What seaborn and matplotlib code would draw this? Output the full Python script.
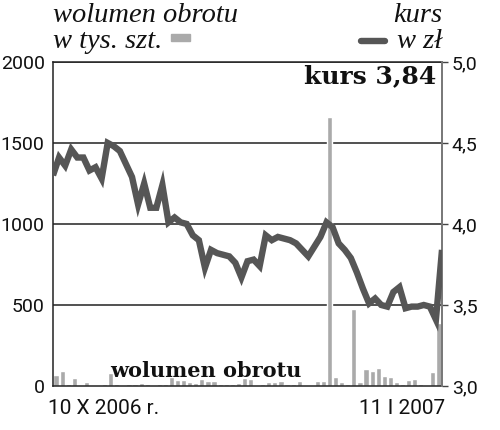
import numpy as np
import pandas as pd
import matplotlib
matplotlib.use("Agg")
import matplotlib.pyplot as plt
import seaborn as sns
from matplotlib.patches import Rectangle
from matplotlib.lines import Line2D

# volume (thousand shares), one bar per session
volume = [65, 95, 12, 50, 5, 25, 0, 0, 15, 80,
          10, 0, 10, 15, 20, 10, 5, 15, 10, 55,
          37, 37, 25, 20, 43, 30, 30, 15, 15, 10,
          20, 50, 45, 5, 10, 25, 25, 30, 15, 15,
          30, 3, 3, 30, 30, 1660, 55, 25, 10, 475,
          25, 105, 95, 110, 60, 55, 25, 10, 40, 45,
          10, 5, 85, 390]

# closing price in zl
price = [4.30, 4.41, 4.36, 4.46, 4.41, 4.41, 4.33, 4.35, 4.28, 4.50,
         4.48, 4.45, 4.37, 4.29, 4.12, 4.25, 4.10, 4.10, 4.24, 4.01,
         4.04, 4.01, 4.00, 3.93, 3.90, 3.73, 3.84, 3.82, 3.81, 3.80,
         3.76, 3.67, 3.77, 3.78, 3.74, 3.93, 3.90, 3.92, 3.91, 3.90,
         3.88, 3.84, 3.80, 3.86, 3.92, 4.01, 3.98, 3.88, 3.84, 3.79,
         3.70, 3.60, 3.51, 3.54, 3.50, 3.49, 3.58, 3.61, 3.48, 3.49,
         3.49, 3.50, 3.49, 3.41, 3.84]

vol_ticks = [0, 500, 1000, 1500, 2000]
price_ticks = [3.0, 3.5, 4.0, 4.5, 5.0]
price_labels = ["3,0", "3,5", "4,0", "4,5", "5,0"]
date_labels = ["10 X 2006 r.", "11 I 2007"]

BAR = "#aaaaaa"
LINE = "#565656"

sns.set_style("white")
plt.rcParams["font.family"] = ["DejaVu Sans"]

fig = plt.figure(figsize=(5.0, 4.3), dpi=100)
ax = fig.add_axes([0.106, 0.1023, 0.778, 0.7537])

vol_df = pd.DataFrame({"i": np.arange(len(volume)), "v": volume})
sns.barplot(data=vol_df, x="i", y="v", color=BAR, saturation=1,
            width=0.85, ax=ax, zorder=2)
ax.set_xlim(-0.5, len(volume) - 0.5)
ax.set_ylim(0, 2000)
ax.set_yticks(vol_ticks)
ax.set_yticklabels([str(t) for t in vol_ticks], fontsize=14,
                   fontfamily="Roboto", color="#111111")
ax.set_xticks([])
ax.set_xlabel("")
ax.set_ylabel("")
for t in vol_ticks[1:]:
    ax.axhline(t, color="#222222", lw=1.1, zorder=1)
ax.tick_params(axis="y", length=0, pad=6)
for s in ["left", "bottom", "top"]:
    ax.spines[s].set_color("#222222")
    ax.spines[s].set_linewidth(1.1)
ax.spines["right"].set_visible(False)

ax2 = ax.twinx()
price_df = pd.DataFrame({"x": np.arange(len(price)) - 0.5, "p": price})
sns.lineplot(data=price_df, x="x", y="p", color=LINE, lw=4.6, ax=ax2,
             solid_joinstyle="miter", solid_capstyle="butt", zorder=5)
ax2.set_xlim(-0.5, len(volume) - 0.5)
ax2.set_ylim(3.0, 5.0)
ax2.set_yticks(price_ticks)
ax2.set_yticklabels(price_labels, fontsize=14, fontfamily="Roboto",
                    color="#111111")
ax2.set_xlabel("")
ax2.set_ylabel("")
ax2.tick_params(axis="y", length=4, width=1, color="#444444", pad=3)
for s in ["left", "bottom", "top"]:
    ax2.spines[s].set_visible(False)
ax2.spines["right"].set_color("#777777")
ax2.spines["right"].set_linewidth(1.4)

# headers
ital = dict(family="Liberation Serif", style="italic", fontsize=20.5,
            color="#111111")
fig.text(0.106, 0.963, "wolumen obrotu", ha="left", va="center", **ital)
fig.text(0.106, 0.903, "w tys. szt.", ha="left", va="center", **ital)
fig.patches.append(Rectangle((0.342, 0.905), 0.038, 0.016,
                             transform=fig.transFigure, color=BAR))
fig.text(0.884, 0.963, "kurs", ha="right", va="center", **ital)
fig.text(0.884, 0.903, "w zł", ha="right", va="center", **ital)
fig.lines.append(Line2D([0.722, 0.77], [0.905, 0.905],
                        transform=fig.transFigure, color=LINE, lw=4.6,
                        solid_capstyle="round"))

fig.text(0.872, 0.822, "kurs 3,84", ha="right", va="center",
         family="DejaVu Serif", weight="bold", fontsize=18, color="#111111")
fig.text(0.22, 0.138, "wolumen obrotu", ha="left", va="center",
         family="DejaVu Serif", weight="bold", fontsize=15, color="#111111")

fig.text(0.096, 0.05, date_labels[0], ha="left", va="center",
         family="Roboto", fontsize=15, color="#111111")
fig.text(0.89, 0.05, date_labels[1], ha="right", va="center",
         family="Roboto", fontsize=15, color="#111111")

fig.savefig("out.png", dpi=100)
